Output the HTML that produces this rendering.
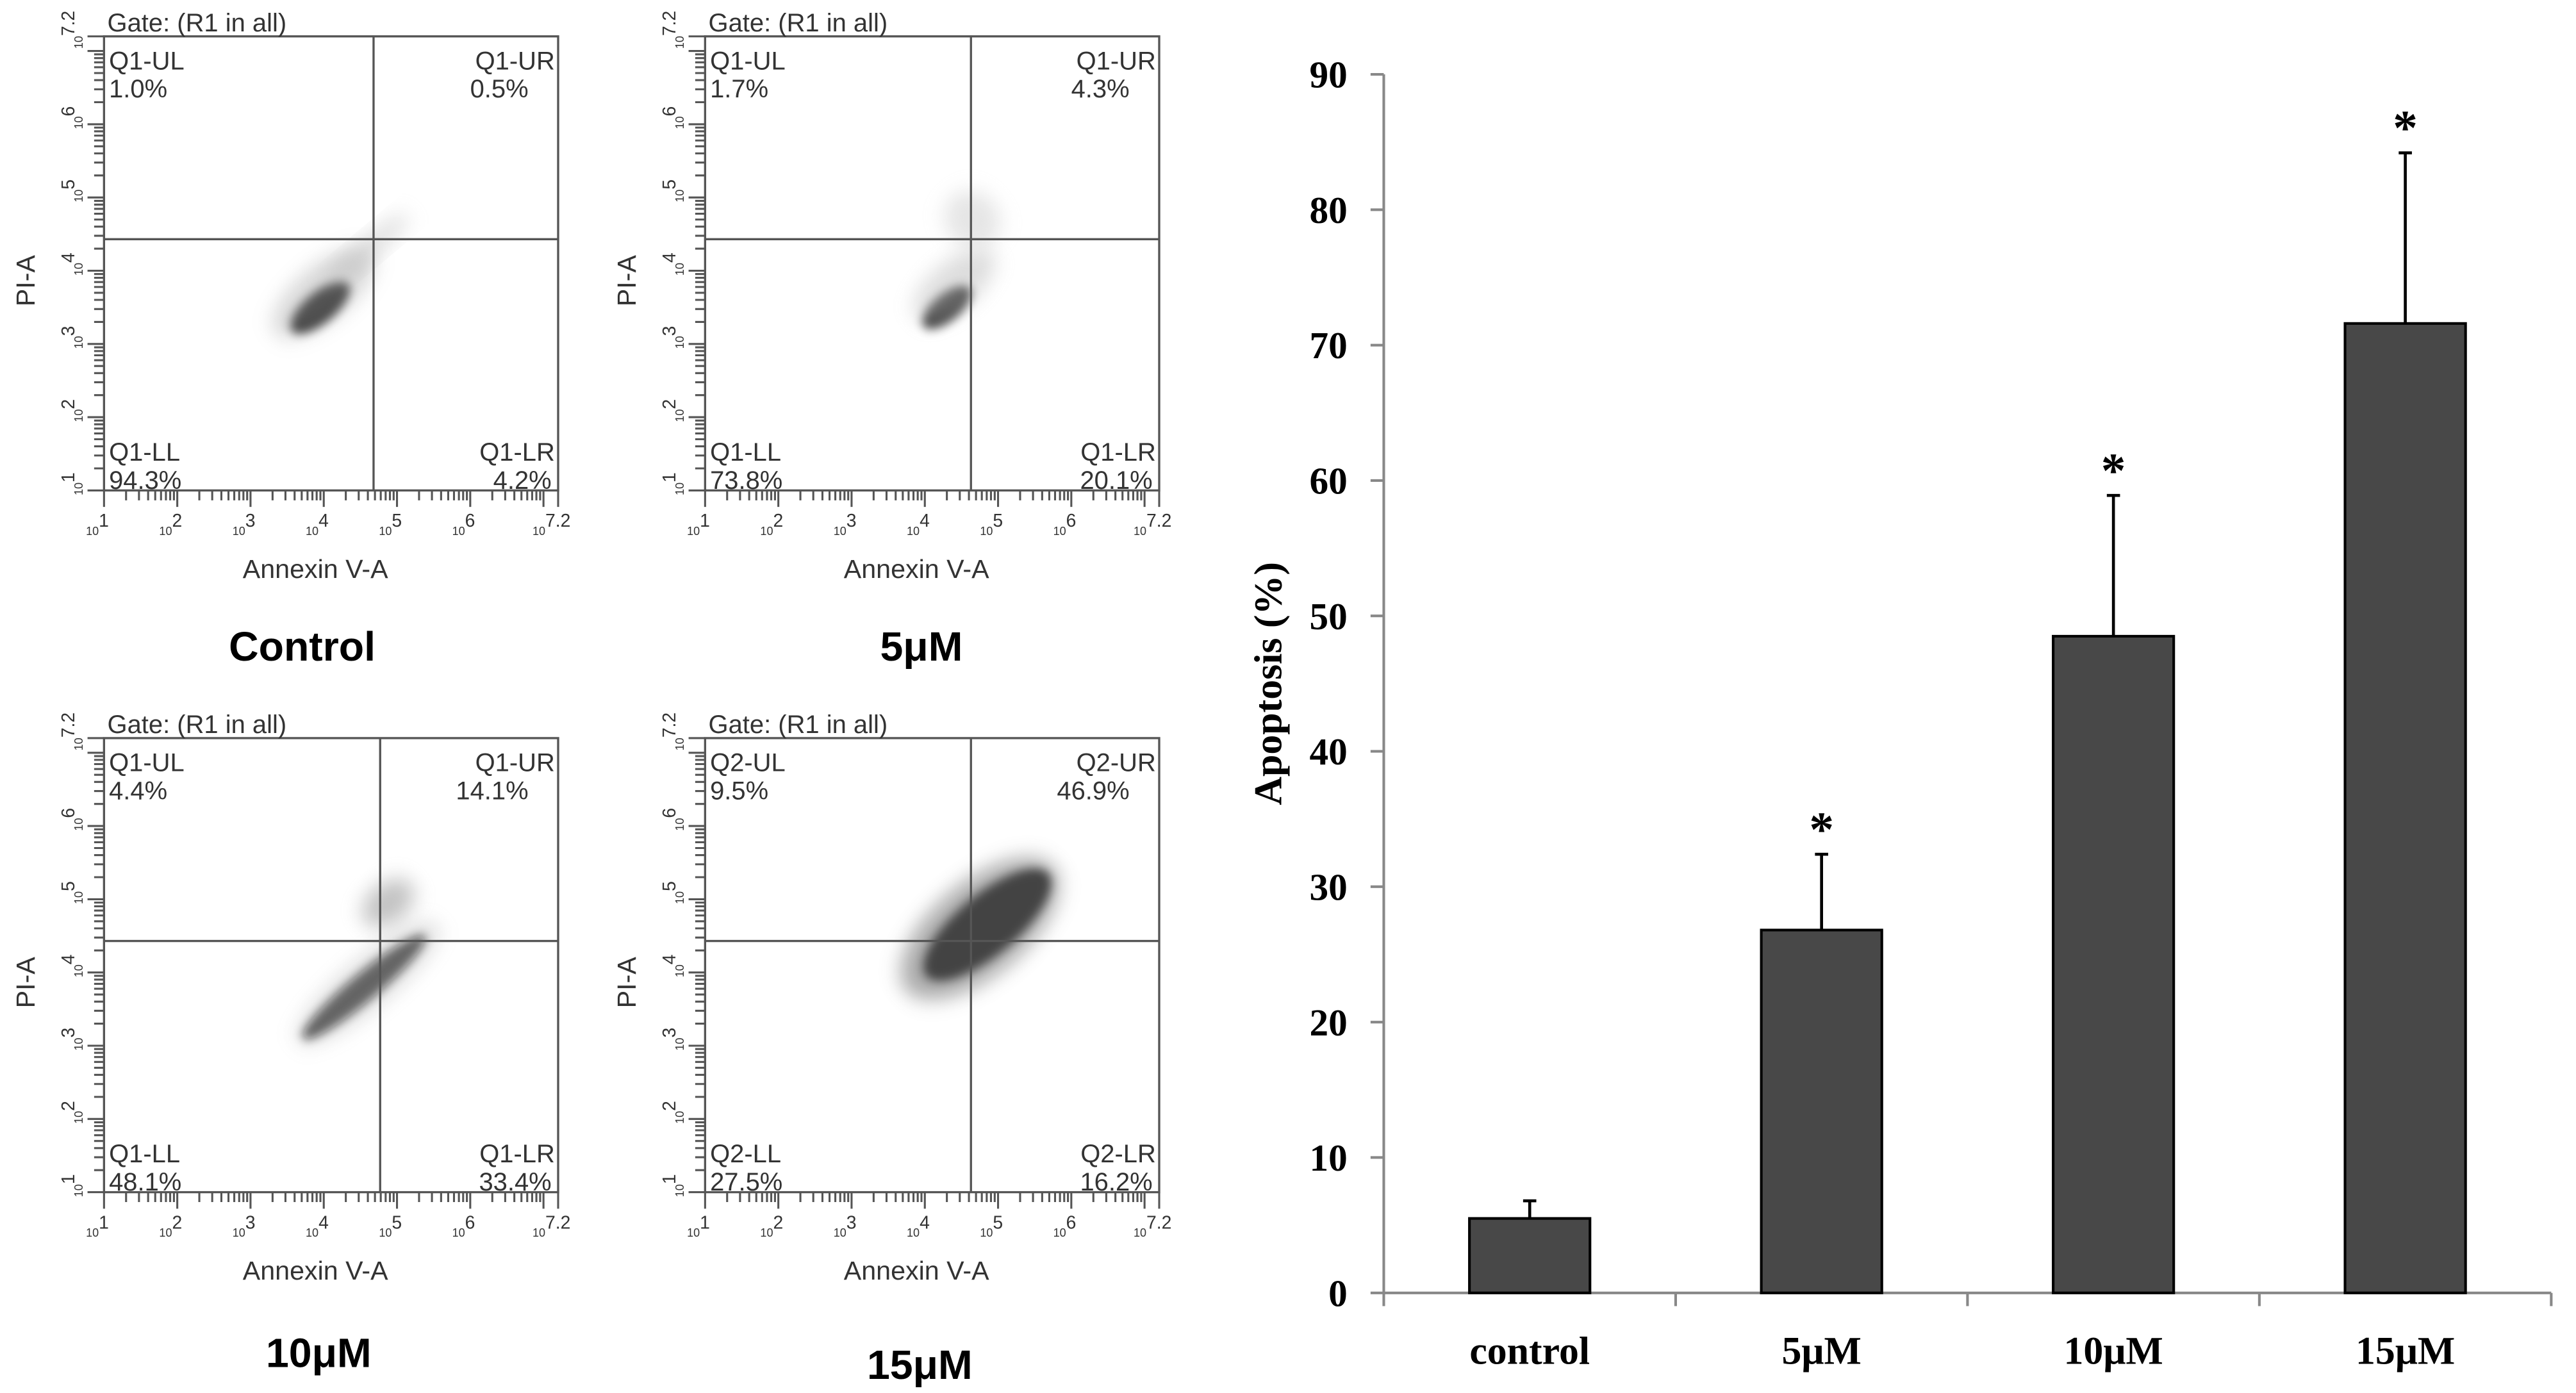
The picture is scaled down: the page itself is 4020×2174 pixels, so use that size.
<!DOCTYPE html>
<html><head><meta charset="utf-8"><style>
html,body{margin:0;padding:0;background:#fff;}
svg{display:block;}
.fl{font-family:"Liberation Sans",sans-serif;fill:#333;}
.tm{font-family:"Liberation Serif",serif;font-weight:bold;fill:#000;}
</style></head><body>
<svg id="fig" xmlns="http://www.w3.org/2000/svg" width="4020" height="2174" viewBox="0 0 1560 843.6">
<defs>
<filter id="blur1" x="-50%" y="-50%" width="200%" height="200%"><feGaussianBlur stdDeviation="3"/></filter>
<filter id="blur2" x="-50%" y="-50%" width="200%" height="200%"><feGaussianBlur stdDeviation="6"/></filter>
</defs>
<g id="flow"></g>
<g id="bars"></g>
</svg>
<script>
// ---- bar chart data ----
const categories = ["control", "5μM", "10μM", "15μM"];
const apoptosisValues = [5.5, 26.8, 48.5, 71.6];
const errorTops = [6.8, 32.4, 58.9, 84.2];
const significant = [false, true, true, true];
const yTicks = [0,10,20,30,40,50,60,70,80,90];

// ---- flow panel data ----
const panelNames = ["Control","5μM","10μM","15μM"];
const quadPrefix = ["Q1","Q1","Q1","Q2"];
const ulPct = ["1.0%","1.7%","4.4%","9.5%"];
const urPct = ["0.5%","4.3%","14.1%","46.9%"];
const llPct = ["94.3%","73.8%","48.1%","27.5%"];
const lrPct = ["4.2%","20.1%","33.4%","16.2%"];
const vGateLog = [4.68, 4.63, 4.77, 4.63];
const hGateLog = [4.43, 4.43, 4.43, 4.43];
const decadeLabels = ["1","2","3","4","5","6","7.2"];

const NS = "http://www.w3.org/2000/svg";
function mk(tag, attrs, parent){const e=document.createElementNS(NS,tag);for(const k in attrs)e.setAttribute(k,attrs[k]);parent.appendChild(e);return e;}

// ---- Bar chart ----
const bars = document.getElementById('bars');
const ax0 = 838, ax1 = 1545, y0 = 783, pxPer = 8.2, catW = (ax1-ax0)/categories.length, barW = 73;
const yS = v => y0 - v*pxPer;
const xC = i => ax0 + catW*(i+0.5);
let yAxis = mk('line',{x1:ax0,y1:yS(90),x2:ax0,y2:y0,stroke:'#888','stroke-width':1.6},bars);


let xAxis = mk('line',{x1:ax0,y1:y0,x2:ax1,y2:y0,stroke:'#888','stroke-width':1.6},bars);


yTicks.forEach(t=>{
  let tk = mk('line',{x1:ax0-8,y1:yS(t),x2:ax0,y2:yS(t),stroke:'#888','stroke-width':1.6},bars);
  
  
  let tl = mk('text',{x:ax0-22,y:yS(t)+8,'text-anchor':'end','font-size':23,class:'tm'},bars);
  
  
  tl.textContent = t;
});
for(let i=0;i<=categories.length;i++){
  let tk = mk('line',{x1:ax0+catW*i,y1:y0,x2:ax0+catW*i,y2:y0+8,stroke:'#888','stroke-width':1.6},bars);
  
  
}
let yt = mk('text',{x:0,y:0,'text-anchor':'middle','font-size':24,class:'tm',transform:`translate(776,${yS(45)}) rotate(-90)`},bars);


yt.textContent = 'Apoptosis (%)';
categories.forEach((c,i)=>{
  const cx = xC(i);
  let eb = mk('line',{x1:cx,y1:yS(errorTops[i]),x2:cx,y2:yS(apoptosisValues[i]),stroke:'#000','stroke-width':1.8},bars);
  
  
  let cap = mk('line',{x1:cx-4,y1:yS(errorTops[i]),x2:cx+4,y2:yS(errorTops[i]),stroke:'#000','stroke-width':1.8},bars);
  
  
  let b = mk('rect',{x:cx-barW/2,y:yS(apoptosisValues[i]),width:barW,height:y0-yS(apoptosisValues[i]),fill:'#484848',stroke:'#000','stroke-width':1.6},bars);
  
  
  let xl = mk('text',{x:cx,y:826,'text-anchor':'middle','font-size':24,class:'tm'},bars);
  
  
  xl.textContent = c;
  if(significant[i]){
    let s = mk('text',{x:cx,y:yS(errorTops[i])-5,'text-anchor':'middle','font-size':30,class:'tm'},bars);
    
    
    s.textContent='*';
  }
});

// ---- Flow panels ----
const flow = document.getElementById('flow');
const origins = [[63,22],[427,22],[63,447],[427,447]];
const capPos = [[183,400],[558,400],[193,828],[557,835]];
const S = 275, dec = S/6.2;
// cloud shapes (position in log units, blur blobs)
const clouds = [
  [[3.95,3.5,22,9,'#000',0.85,1],[4.0,3.7,38,16,'#999',0.4,2],[4.6,4.3,32,6,'#bbb',0.5,2]],
  [[4.3,3.5,18,8,'#000',0.75,1],[4.4,3.8,30,14,'#aaa',0.4,2],[4.65,4.7,16,18,'#ccc',0.5,2]],
  [[4.55,3.8,48,8,'#111',0.75,1],[4.6,3.85,55,14,'#999',0.35,2],[4.88,4.95,18,12,'#888',0.5,2]],
  [[4.85,4.65,48,18,'#000',0.8,1],[4.75,4.6,58,28,'#555',0.5,2]]
];
origins.forEach((o,p)=>{
  const g = mk('g',{},flow);
  
  
  const [x0,yT]=o, yB=yT+S;
  const lx = v => x0 + (v-1)*dec, ly = v => yB - (v-1)*dec;
  clouds[p].forEach(cl=>{
    const e = mk('ellipse',{cx:lx(cl[0]),cy:ly(cl[1]),rx:cl[2],ry:cl[3],fill:cl[4],opacity:cl[5],filter:cl[6]==1?'url(#blur1)':'url(#blur2)',transform:`rotate(-40 ${lx(cl[0])} ${ly(cl[1])})`},g);
    
    
  });
  const box = mk('rect',{x:x0,y:yT,width:S,height:S,fill:'none',stroke:'#555','stroke-width':1.3},g);
  
  
  const vg = mk('line',{x1:lx(vGateLog[p]),y1:yT,x2:lx(vGateLog[p]),y2:yB,stroke:'#555','stroke-width':1.3},g);
  
  
  const hg = mk('line',{x1:x0,y1:ly(hGateLog[p]),x2:x0+S,y2:ly(hGateLog[p]),stroke:'#555','stroke-width':1.3},g);
  
  
  let d='';
  for(let k=1;k<7.2;k++){
    for(let m=1;m<10;m++){
      const v=k+Math.log10(m); if(v>7.2) break;
      const L = m==1?10:6;
      d+=`M${lx(v)} ${yB}v${L}M${x0} ${ly(v)}h${-L}`;
    }
  }
  d+=`M${lx(7.2)} ${yB}v10M${x0} ${ly(7.2)}h-10`;
  const tk = mk('path',{d:d,stroke:'#555','stroke-width':1.2,fill:'none'},g);
  
  
  const decV=[1,2,3,4,5,6,7.2];
  decadeLabels.forEach((lab,i)=>{
    const t = mk('text',{x:lx(decV[i])-4,y:yB+27,'font-size':11,class:'fl','text-anchor':'middle'},g);
    
    
    t.innerHTML = `<tspan font-size="7">10</tspan><tspan dy="-5">${lab}</tspan>`;
    const t2 = mk('text',{x:0,y:0,'font-size':11,class:'fl','text-anchor':'middle',transform:`translate(${x0-13},${ly(decV[i])-4}) rotate(-90)`},g);
    
    
    t2.innerHTML = `<tspan font-size="7">10</tspan><tspan dy="-5">${lab}</tspan>`;
  });
  const txt=(s,x,y,anchor,size,name)=>{const t=mk('text',{x:x,y:y,'text-anchor':anchor,'font-size':size,class:'fl'},g);t.textContent=s;return t;};
  txt('Gate: (R1 in all)',x0+2,yT-3,'start',15.5,'gate-title');
  txt(quadPrefix[p]+'-UL',x0+3,yT+20,'start',15.5,'quadrant-ul-label');
  txt(ulPct[p],x0+3,yT+37,'start',15.5,'quadrant-ul-percent');
  txt(quadPrefix[p]+'-UR',x0+S-2,yT+20,'end',15.5,'quadrant-ur-label');
  txt(urPct[p],x0+S-18,yT+37,'end',15.5,'quadrant-ur-percent');
  txt(quadPrefix[p]+'-LL',x0+3,yB-18,'start',15.5,'quadrant-ll-label');
  txt(llPct[p],x0+3,yB-1,'start',15.5,'quadrant-ll-percent');
  txt(quadPrefix[p]+'-LR',x0+S-2,yB-18,'end',15.5,'quadrant-lr-label');
  txt(lrPct[p],x0+S-4,yB-1,'end',15.5,'quadrant-lr-percent');
  txt('Annexin V-A',x0+128,yB+53,'middle',16,'x-axis-title');
  const pa = mk('text',{x:0,y:0,'text-anchor':'middle','font-size':16,class:'fl',transform:`translate(${x0-42},${yT+148}) rotate(-90)`},g);
  
  
  pa.textContent='PI-A';
  const c = mk('text',{x:capPos[p][0],y:capPos[p][1],'text-anchor':'middle','font-size':25,'font-weight':'bold','font-family':'Liberation Sans, sans-serif',fill:'#000'},g);
  
  
  c.textContent=panelNames[p];
});
</script>
</body></html>
